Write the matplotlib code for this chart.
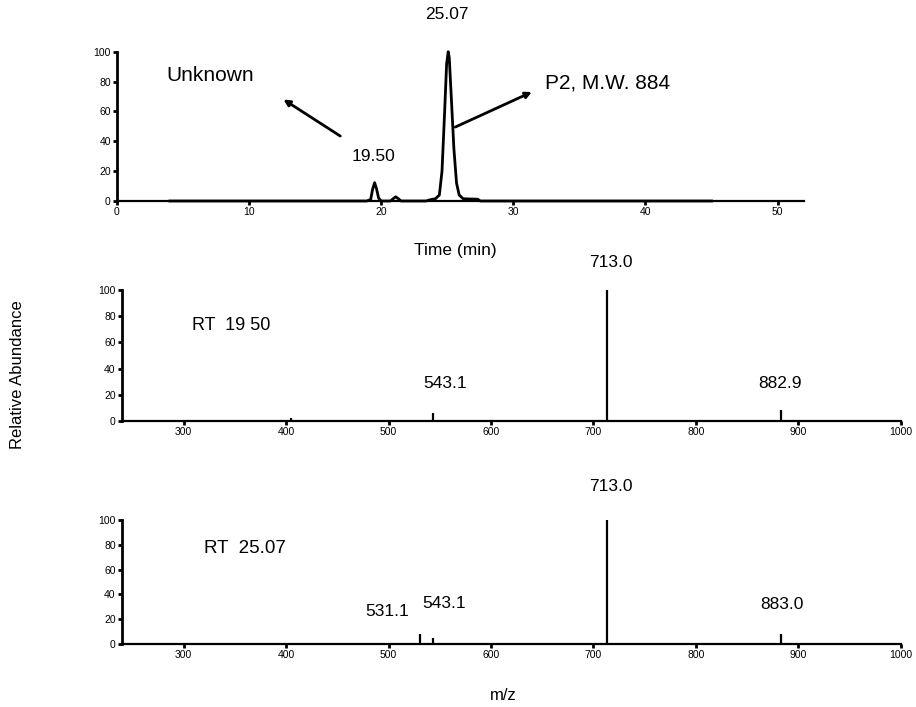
import matplotlib
matplotlib.use('Agg')
import matplotlib.pyplot as plt
import numpy as np

plt.rcParams['font.family'] = ['Liberation Sans', 'DejaVu Sans']

# Chromatogram trace (time in min, relative intensity)
time_min = [4.0, 18.9, 19.2, 19.35, 19.5, 19.65, 19.8, 20.0, 20.7, 20.9, 21.1, 21.3, 21.5,
            23.4, 23.7, 23.9, 24.1, 24.4, 24.6, 24.8, 24.95, 25.07, 25.15, 25.3, 25.5,
            25.7, 25.9, 26.2, 27.3, 27.5, 45.0]
intensity = [0, 0, 1, 8, 12.3, 8, 2, 0, 0, 1.5, 2.8, 1.5, 0,
             0, 0.8, 1.2, 1.5, 4, 20, 60, 92, 100, 96, 70, 35,
             12, 4, 1.5, 1.2, 0, 0]

# Mass spectra (m/z, relative abundance)
mz_rt1950 = [405.0, 543.1, 713.0, 882.9]
ab_rt1950 = [2, 6, 100, 8.5]
mz_rt2507 = [531.1, 543.1, 713.0, 883.0]
ab_rt2507 = [8, 5, 100, 8]

fig = plt.figure(figsize=(9.16, 7.07), dpi=100)
W, H = 916.0, 707.0


def make_axes(left, right, bottom, top):
    return fig.add_axes([left / W, 1 - bottom / H, (right - left) / W, (bottom - top) / H])


def style(ax):
    for side in ['top', 'right']:
        ax.spines[side].set_visible(False)
    ax.spines['left'].set_linewidth(2.0)
    ax.spines['bottom'].set_linewidth(1.6)
    ax.tick_params(direction='out', length=3, width=2, labelsize=7.5, pad=1.5)
    ax.set_ylim(0, 100)
    ax.set_yticks([0, 20, 40, 60, 80, 100])
    ax.patch.set_alpha(0)


# top panel: chromatogram
ax1 = make_axes(117, 804, 201, 51.7)
style(ax1)
ax1.plot(time_min, intensity, color='black', lw=2.0, clip_on=False, solid_joinstyle='round')
ax1.set_xlim(0, 52)
ax1.set_xticks([0, 10, 20, 30, 40, 50])
ax1.text(25.0, 125, '25.07', fontsize=12.5, ha='center', va='center')
ax1.text(19.4, 29.5, '19.50', fontsize=12.5, ha='center', va='center')
ax1.text(3.7, 84, 'Unknown', fontsize=15, ha='left', va='center')
ax1.text(32.4, 79, 'P2, M.W. 884', fontsize=15, ha='left', va='center')
arrow = dict(arrowstyle='-|>', color='black', lw=2.0, mutation_scale=9, shrinkA=0, shrinkB=0)
ax1.annotate('', xy=(12.6, 68), xytext=(16.9, 43.5), arrowprops=arrow)
ax1.annotate('', xy=(31.4, 73), xytext=(25.6, 49.5), arrowprops=arrow)
fig.text(455 / W, 1 - 250 / H, 'Time (min)', fontsize=12.5, ha='center', va='center')

# middle panel: spectrum at RT 19.50
ax2 = make_axes(122, 901, 421, 290)
style(ax2)
ax2.vlines(mz_rt1950, 0, ab_rt1950, color='black', lw=1.6, clip_on=False)
ax2.set_xlim(240, 1000)
ax2.set_xticks(range(300, 1001, 100))
ax2.text(347, 73, 'RT  19 50', fontsize=13, ha='center', va='center')
ax2.text(555, 29, '543.1', fontsize=12.5, ha='center', va='center')
ax2.text(882, 29, '882.9', fontsize=12.5, ha='center', va='center')
ax2.text(717, 121, '713.0', fontsize=12.5, ha='center', va='center')

# bottom panel: spectrum at RT 25.07
ax3 = make_axes(122, 901, 644, 520)
style(ax3)
ax3.vlines(mz_rt2507, 0, ab_rt2507, color='black', lw=1.6, clip_on=False)
ax3.set_xlim(240, 1000)
ax3.set_xticks(range(300, 1001, 100))
ax3.text(360, 77, 'RT  25.07', fontsize=13.5, ha='center', va='center')
ax3.text(499, 26, '531.1', fontsize=12.5, ha='center', va='center')
ax3.text(554, 33, '543.1', fontsize=12.5, ha='center', va='center')
ax3.text(884, 32, '883.0', fontsize=12.5, ha='center', va='center')
ax3.text(717, 127, '713.0', fontsize=12.5, ha='center', va='center')

fig.text(503 / W, 1 - 695 / H, 'm/z', fontsize=12, ha='center', va='center')
fig.text(18 / W, 1 - 375 / H, 'Relative Abundance', fontsize=12, rotation=90,
         ha='center', va='center')

fig.savefig('out.png', dpi=100)
